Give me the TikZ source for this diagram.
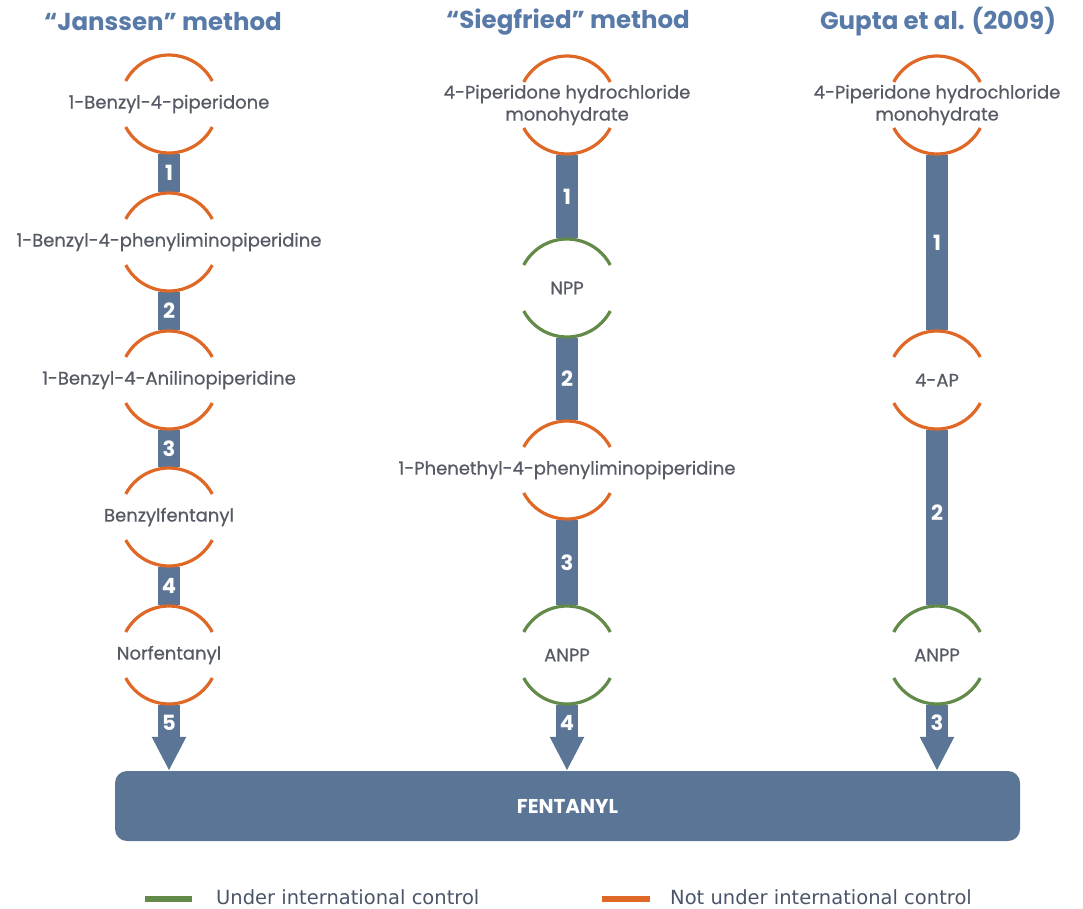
\documentclass[tikz,border=0pt]{standalone}
\usepackage{fontspec}
\setmainfont{Poppins}
\newfontfamily\legfont{DejaVu Sans}
\usetikzlibrary{arrows.meta}
\definecolor{barc}{RGB}{90,117,150}
\definecolor{orangec}{RGB}{224,104,38}
\definecolor{greenc}{RGB}{98,138,72}
\definecolor{titlec}{RGB}{88,122,168}
\definecolor{labelc}{RGB}{85,90,100}
\definecolor{legc}{RGB}{75,85,105}
\tikzset{
  mol/.style={circle, minimum size=100pt, inner sep=0pt},
  lbl/.style={text=labelc, font=\addfontfeature{FakeBold=0.6}\fontsize{18}{22}\selectfont, align=center, inner sep=0pt},
  ttl/.style={text=titlec, font=\bfseries\fontsize{24.5}{28}\selectfont, inner sep=0pt},
  link/.style={draw=barc, line width=22pt},
  arrowlink/.style={link, -{Triangle[width=32pt,length=34pt]}},
  num/.style={text=white, font=\bfseries\fontsize{21}{22}\selectfont, inner sep=0pt},
  ring/.style={line width=3.2pt},
  leg/.style={text=legc, font=\legfont\fontsize{19.5}{22}\selectfont, inner sep=0pt, anchor=base west},
}
\newcommand\molarcs[2]{%
  \draw[ring,#2] ([shift={(28:49pt)}]#1.center) arc[start angle=28,end angle=152,radius=49pt];
  \draw[ring,#2] ([shift={(208:49pt)}]#1.center) arc[start angle=208,end angle=332,radius=49pt];}
\begin{document}
\begin{tikzpicture}[x=1pt,y=1pt]
\useasboundingbox (0,0) rectangle (1083,-908);
% titles
\node[ttl] (t1) at (163,-22) {“Janssen” method};
\node[ttl] (t2) at (568,-22) {“Siegfried” method};
\node[ttl] (t3) at (938,-22) {Gupta et al. (2009)};
% molecules
\node[mol] (j1) at (169,-104) {};
\node[mol] (j2) at (169,-242) {};
\node[mol] (j3) at (169,-380) {};
\node[mol] (j4) at (169,-517) {};
\node[mol] (j5) at (169,-655) {};
\node[mol] (s1) at (567,-105) {};
\node[mol] (s2) at (567,-288) {};
\node[mol] (s3) at (567,-470) {};
\node[mol] (s4) at (567,-655) {};
\node[mol] (g1) at (937,-105) {};
\node[mol] (g2) at (937,-380) {};
\node[mol] (g3) at (937,-655) {};
% product
\node[fill=barc, rounded corners=12pt, minimum width=905pt, minimum height=70pt, inner sep=0pt,
      text=white, font=\bfseries\fontsize{20}{22}\selectfont] (fent) at (567.5,-806) {FENTANYL};
% links
\draw[link] (j1.south) -- node[num]{1} (j2.north);
\draw[link] (j2.south) -- node[num]{2} (j3.north);
\draw[link] (j3.south) -- node[num]{3} (j4.north);
\draw[link] (j4.south) -- node[num]{4} (j5.north);
\draw[arrowlink] (j5.south) -- node[num,pos=0.27]{5} (j5.south |- fent.north);
\draw[link] (s1.south) -- node[num]{1} (s2.north);
\draw[link] (s2.south) -- node[num]{2} (s3.north);
\draw[link] (s3.south) -- node[num]{3} (s4.north);
\draw[arrowlink] (s4.south) -- node[num,pos=0.27]{4} (s4.south |- fent.north);
\draw[link] (g1.south) -- node[num]{1} (g2.north);
\draw[link] (g2.south) -- node[num,pos=0.47]{2} (g3.north);
\draw[arrowlink] (g3.south) -- node[num,pos=0.27]{3} (g3.south |- fent.north);
% rings
\molarcs{j1}{orangec}
\molarcs{j2}{orangec}
\molarcs{j3}{orangec}
\molarcs{j4}{orangec}
\molarcs{j5}{orangec}
\molarcs{s1}{orangec}
\molarcs{s2}{greenc}
\molarcs{s3}{orangec}
\molarcs{s4}{greenc}
\molarcs{g1}{orangec}
\molarcs{g2}{orangec}
\molarcs{g3}{greenc}
% labels
\node[lbl] (j1t) at (j1) {1-Benzyl-4-piperidone};
\node[lbl] (j2t) at (j2) {1-Benzyl-4-phenyliminopiperidine};
\node[lbl] (j3t) at (j3) {1-Benzyl-4-Anilinopiperidine};
\node[lbl] (j4t) at (j4) {Benzylfentanyl};
\node[lbl] (j5t) at (j5) {Norfentanyl};
\node[lbl] (s1t) at (s1) {4-Piperidone hydrochloride\\monohydrate};
\node[lbl] (s2t) at (s2) {NPP};
\node[lbl] (s3t) at (s3) {1-Phenethyl-4-phenyliminopiperidine};
\node[lbl] (s4t) at (s4) {ANPP};
\node[lbl] (g1t) at (g1) {4-Piperidone hydrochloride\\monohydrate};
\node[lbl] (g2t) at (g2) {4-AP};
\node[lbl] (g3t) at (g3) {ANPP};
% legend
\node[fill=greenc, minimum width=47pt, minimum height=6pt, inner sep=0pt] (lg) at (168.5,-899) {};
\node[leg] (lgt) at (216,-904) {Under international control};
\node[fill=orangec, minimum width=48pt, minimum height=6pt, inner sep=0pt] (lo) at (626,-899) {};
\node[leg] (lot) at (670,-904) {Not under international control};
\end{tikzpicture}
\end{document}
